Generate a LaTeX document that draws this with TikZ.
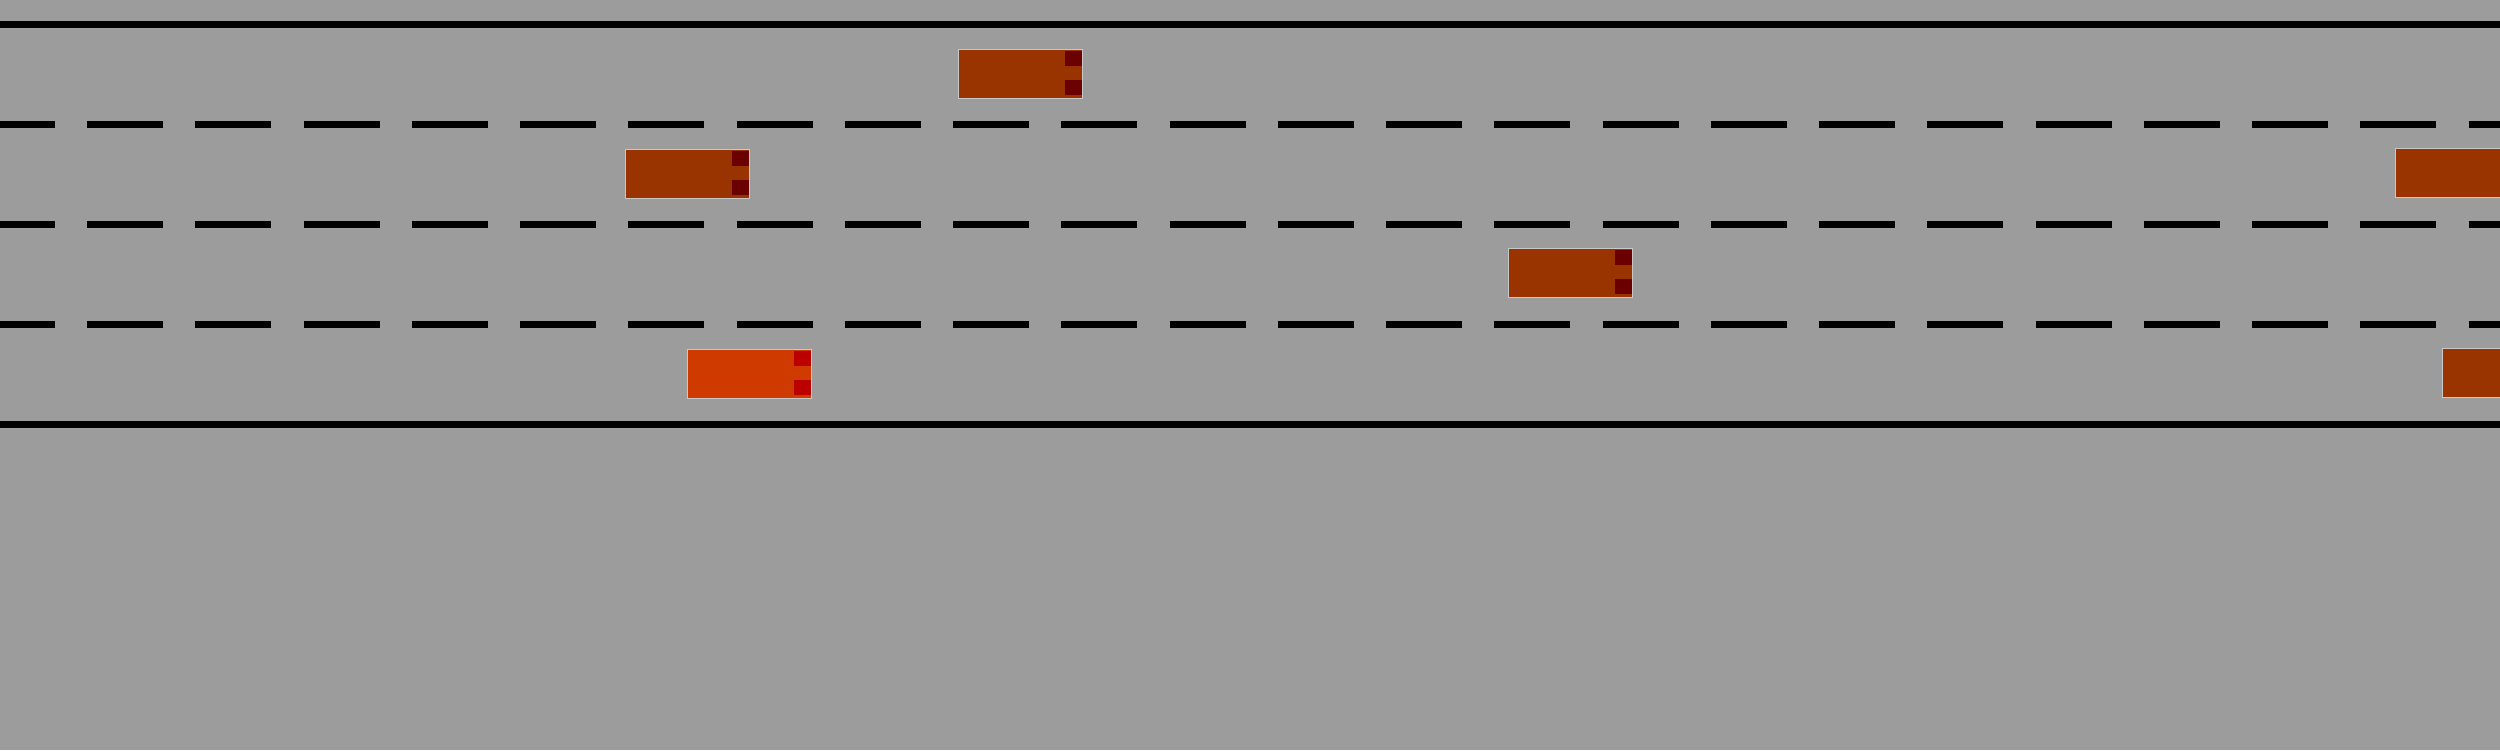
\documentclass[tikz,border=0pt]{standalone}
\definecolor{roadgray}{RGB}{156,156,156}
\definecolor{bordergray}{RGB}{200,200,200}
\definecolor{carbrown}{RGB}{153,51,0}
\definecolor{cardark}{RGB}{107,0,0}
\definecolor{carred}{RGB}{206,58,0}
\definecolor{reddark}{RGB}{187,0,0}
\tikzset{
  solidline/.style={line width=7pt, black},
  laneline/.style={line width=7pt, black, dash pattern=on 76pt off 32.25pt},
  carbox/.style={rectangle, draw=bordergray, line width=1pt, fill=#1, minimum width=124pt, minimum height=49pt, inner sep=0pt},
  lamps/.style={path picture={
     \fill[#1] ([xshift=-18pt,yshift=-1.5pt]path picture bounding box.north east) rectangle ++(17pt,-15pt);
     \fill[#1] ([xshift=-18pt,yshift=3.5pt]path picture bounding box.south east) rectangle ++(17pt,15pt);
  }},
  car/.style={carbox=carbrown, lamps=cardark},
  redcar/.style={carbox=carred, lamps=reddark}
}
\begin{document}
\begin{tikzpicture}[x=1pt,y=-1pt]
\useasboundingbox (0,0) rectangle (2500,750);
\clip (0,0) rectangle (2500,750);
\fill[roadgray] (0,0) rectangle (2500,750);
% road edges
\draw[solidline] (-10,24.5) -- (2510,24.5);
\draw[solidline] (-10,424.5) -- (2510,424.5);
% lane markings
\draw[laneline] (-21.25,124.5) -- (2600,124.5);
\draw[laneline] (-21.25,224.5) -- (2600,224.5);
\draw[laneline] (-21.25,324.5) -- (2600,324.5);
% cars
\node[car] (c1) at (1020.5,74) {};
\node[car] (c2) at (687.5,173.5) {};
\node[car] (c3) at (1570.5,273) {};
\node[redcar] (c4) at (749.5,374) {};
\node[car] (c5) at (2457.5,173) {};
\node[car] (c6) at (2504.5,373) {};
\end{tikzpicture}
\end{document}
